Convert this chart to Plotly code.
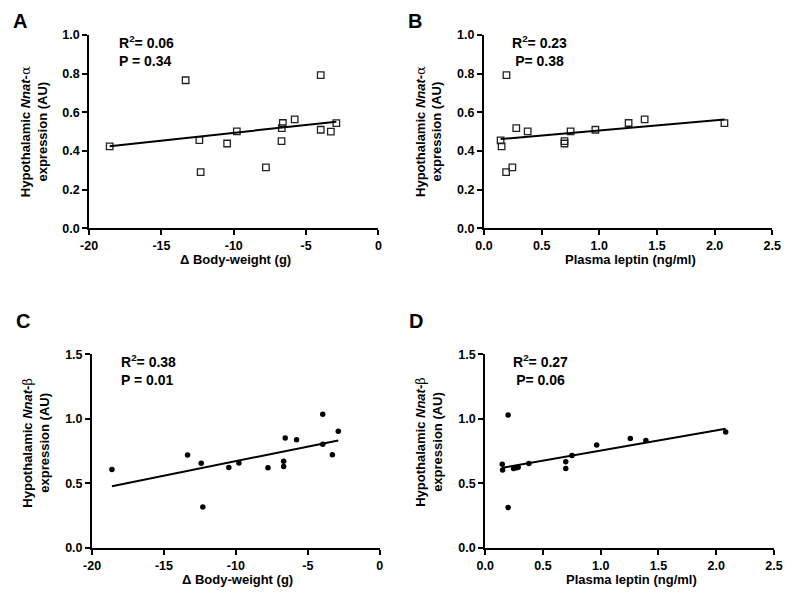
import numpy as np
import plotly.graph_objects as go

W, H = 794, 596

# ---- data ----
bw_alpha = [-18.58, -13.33, -12.38, -12.29, -10.46, -9.79, -7.78, -6.70, -6.68, -6.61, -5.79, -3.99, -3.99, -3.29, -2.91]
nnat_alpha_bw = [0.424, 0.766, 0.456, 0.291, 0.439, 0.502, 0.316, 0.451, 0.519, 0.545, 0.564, 0.793, 0.510, 0.500, 0.544]

leptin_alpha = [0.144, 0.153, 0.195, 0.192, 0.246, 0.280, 0.379, 0.698, 0.698, 0.751, 0.966, 1.254, 1.393, 2.085]
nnat_alpha_lep = [0.455, 0.424, 0.793, 0.291, 0.316, 0.519, 0.502, 0.451, 0.439, 0.502, 0.510, 0.545, 0.564, 0.544]

bw_beta = [-18.62, -13.36, -12.41, -12.30, -10.49, -9.79, -7.77, -6.68, -6.68, -6.57, -5.78, -3.96, -3.96, -3.29, -2.88]
nnat_beta_bw = [0.608, 0.719, 0.656, 0.318, 0.623, 0.658, 0.620, 0.671, 0.630, 0.852, 0.837, 1.034, 0.802, 0.721, 0.903]

leptin_beta = [0.147, 0.150, 0.198, 0.198, 0.245, 0.271, 0.285, 0.378, 0.697, 0.697, 0.751, 0.965, 1.256, 1.391, 2.082]
nnat_beta_lep = [0.648, 0.603, 1.029, 0.313, 0.615, 0.620, 0.625, 0.653, 0.668, 0.615, 0.716, 0.797, 0.847, 0.832, 0.898]

bw_tickvals = [-20, -15, -10, -5, 0]
bw_ticktext = ["-20", "-15", "-10", "-5", "0"]

stats_text = [["R<sup>2</sup>= 0.06", "P = 0.34"], ["R<sup>2</sup>= 0.23", "P= 0.38"],
              ["R<sup>2</sup>= 0.38", "P = 0.01"], ["R<sup>2</sup>= 0.27", "P= 0.06"]]
panel_letters = ["A", "B", "C", "D"]
xtitles = ["\u0394 Body-weight (g)", "Plasma leptin (ng/ml)", "\u0394 Body-weight (g)", "Plasma leptin (ng/ml)"]
greek = ["\u03b1", "\u03b1", "\u03b2", "\u03b2"]

FONT = "Liberation Sans, Arial, sans-serif"

def px(x):
    return x / W

def py(y):
    return 1 - y / H

# panel pixel boxes: (left, right, top, bottom)
boxes = [(82, 378, 28.7, 226.7), (486, 781, 28.7, 226.7),
         (85, 379.3, 355.5, 554), (487.3, 782.7, 355.5, 554)]

xs = [bw_alpha, leptin_alpha, bw_beta, leptin_beta]
ys = [nnat_alpha_bw, nnat_alpha_lep, nnat_beta_bw, nnat_beta_lep]
xranges = [[-20, 0], [0, 2.5], [-20, 0], [0, 2.5]]
yranges = [[0, 1.0], [0, 1.0], [0, 1.5], [0, 1.5]]
xdticks = [5, 0.5, 5, 0.5]
ydticks = [0.2, 0.2, 0.5, 0.5]
xfmt = ["d", ".1f", "d", ".1f"]

fig = go.Figure()
annotations = []

for i in range(4):
    n = i + 1
    xa = "x" if n == 1 else f"x{n}"
    ya = "y" if n == 1 else f"y{n}"
    x = np.array(xs[i]); y = np.array(ys[i])
    if i < 2:
        marker = dict(symbol="square-open", size=6.5, color="#222", line=dict(width=1.3, color="#222"))
    else:
        marker = dict(symbol="circle", size=5.5, color="black")
    fig.add_trace(go.Scatter(x=x, y=y, mode="markers", marker=marker, xaxis=xa, yaxis=ya,
                             showlegend=False, cliponaxis=False))
    k, b = np.polyfit(x, y, 1)
    lx = np.array([x.min(), x.max()])
    fig.add_trace(go.Scatter(x=lx, y=k * lx + b, mode="lines", line=dict(color="black", width=2),
                             xaxis=xa, yaxis=ya, showlegend=False))

    l, r, t, bt = boxes[i]
    axkw = dict(showline=True, linecolor="black", linewidth=2, ticks="outside", ticklen=5,
                tickwidth=2, tickcolor="black", showgrid=False, zeroline=False,
                tickfont=dict(family=FONT, size=12.5, color="black", weight="bold"))
    xextra = dict(tickmode="array", tickvals=bw_tickvals, ticktext=bw_ticktext) if i % 2 == 0 else \
        dict(dtick=xdticks[i], tick0=0, tickformat=xfmt[i])
    fig.layout[f"xaxis{'' if n == 1 else n}"] = dict(
        domain=[px(l), px(r)], range=xranges[i], anchor=ya, **xextra, **axkw)
    fig.layout[f"yaxis{'' if n == 1 else n}"] = dict(
        domain=[py(bt), py(t)], range=yranges[i], dtick=ydticks[i], tick0=0,
        tickformat=".1f", anchor=xa, **axkw)

    # panel letter
    annotations.append(dict(text=f"<b>{panel_letters[i]}</b>", x=px(l - 80), y=py(t - 14.5 if i < 2 else t - 33.5),
                            xref="paper", yref="paper", xanchor="left", yanchor="middle", showarrow=False,
                            font=dict(family=FONT, size=20, color="black")))
    # stats
    if i % 2 == 0:
        sx, anchor = l + 28, "left"
    else:
        sx, anchor = l + 57, "center"
    annotations.append(dict(text=f"<b>{stats_text[i][0]}<br>{stats_text[i][1]}</b>",
                            x=px(sx), y=py(t - 4), xref="paper", yref="paper",
                            xanchor=anchor, yanchor="top", align=anchor, showarrow=False,
                            font=dict(family=FONT, size=14, color="black")))
    # x title
    annotations.append(dict(text=f"<b>{xtitles[i]}</b>", x=px((l + r) / 2 + 2), y=py(bt + 32),
                            xref="paper", yref="paper", xanchor="center", yanchor="middle",
                            showarrow=False, font=dict(family=FONT, size=13, color="black")))
    # y title
    ytxt = (f"<b>Hypothalamic <i>Nnat</i>-</b><span style=\"font-family:'DejaVu Serif';font-weight:normal\">{greek[i]}</span>"
            f"<br><b>expression (AU)</b>")
    annotations.append(dict(text=ytxt, x=px(l - 57), y=py((t + bt) / 2 + (0 if i < 2 else -9)),
                            xref="paper", yref="paper", xanchor="center", yanchor="middle",
                            textangle=-90, showarrow=False,
                            font=dict(family=FONT, size=13, color="black")))

fig.update_layout(width=W, height=H, margin=dict(l=0, r=0, t=0, b=0),
                  paper_bgcolor="white", plot_bgcolor="white", annotations=annotations)

fig.write_html("out.html", config={"displayModeBar": False},
               post_script="document.body.style.margin='0';document.body.style.padding='0';")
